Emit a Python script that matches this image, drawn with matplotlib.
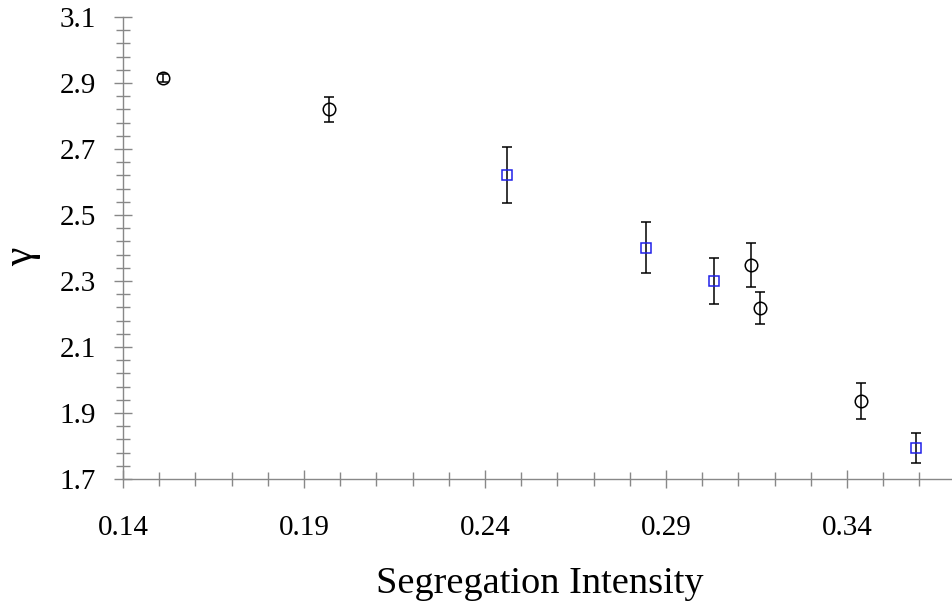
import numpy as np
import matplotlib
matplotlib.use('Agg')
import matplotlib.pyplot as plt
from matplotlib.ticker import FixedLocator, FormatStrFormatter

# circles (black)
circ_x = [0.151, 0.197, 0.3134, 0.316, 0.3439]
circ_y = [2.915, 2.821, 2.348, 2.219, 1.937]
circ_err = [0.012, 0.038, 0.067, 0.048, 0.055]

# squares (blue)
sq_x = [0.246, 0.2844, 0.3033, 0.359]
sq_y = [2.621, 2.401, 2.299, 1.794]
sq_err = [0.085, 0.077, 0.070, 0.045]

plt.rcParams['font.family'] = ['Liberation Serif', 'DejaVu Serif']

fig = plt.figure(figsize=(9.52, 6.05), dpi=100)
ax = fig.add_axes([123/952, 126/605, 829/952, 462/605])

ax.errorbar(circ_x, circ_y, yerr=circ_err, fmt='o', mfc='none', mec='black',
            ms=9, mew=1.1, ecolor='black', elinewidth=1.1, capsize=3.6, capthick=1.1)
ax.errorbar(sq_x, sq_y, yerr=sq_err, fmt='s', mfc='none', mec='#2020e8',
            ms=7.5, mew=1.1, ecolor='black', elinewidth=1.1, capsize=3.6, capthick=1.1)

ax.set_xlim(0.14, 0.369)
ax.set_ylim(1.7, 3.1)
ax.xaxis.set_major_locator(FixedLocator(np.round(np.arange(0.14, 0.37, 0.05), 4)))
ax.xaxis.set_minor_locator(FixedLocator(np.round(np.arange(0.14, 0.37, 0.01), 4)))
ax.yaxis.set_major_locator(FixedLocator(np.round(np.arange(1.7, 3.11, 0.2), 4)))
ax.yaxis.set_minor_locator(FixedLocator(np.round(np.arange(1.7, 3.11, 0.04), 4)))
ax.xaxis.set_major_formatter(FormatStrFormatter('%.2f'))
ax.yaxis.set_major_formatter(FormatStrFormatter('%.1f'))

for s in ['top', 'right']:
    ax.spines[s].set_visible(False)
for s in ['left', 'bottom']:
    ax.spines[s].set_color('#888888')
    ax.spines[s].set_linewidth(1.0)

ax.tick_params(which='major', direction='inout', length=13.5, width=1.0,
               color='#888888', labelsize=21)
ax.tick_params(which='minor', direction='inout', length=9.5, width=1.0,
               color='#888888')
ax.tick_params(axis='y', which='major', pad=12.5)
ax.tick_params(axis='x', which='major', pad=19)

ax.set_xlabel('Segregation Intensity', fontsize=27.6)
ax.xaxis.set_label_coords(0.503, -0.19)
ax.set_ylabel('γ', fontsize=30, va='center', ha='center')
ax.yaxis.set_label_coords(-0.122, 0.48)

fig.savefig('out.png', dpi=100)
